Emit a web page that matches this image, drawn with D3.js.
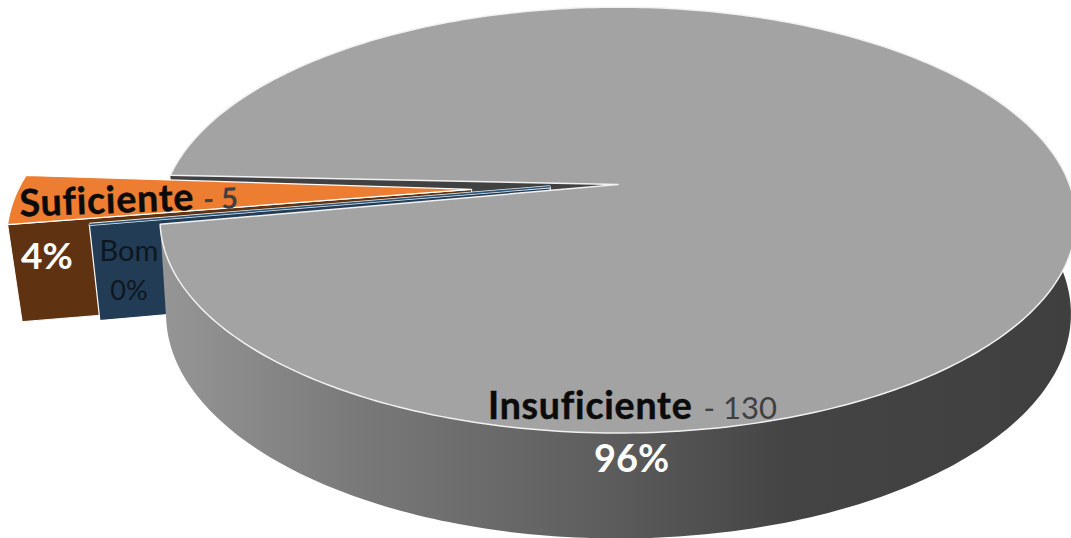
<!DOCTYPE html>
<html>
<head>
<meta charset="utf-8">
<script src="https://cdn.jsdelivr.net/npm/d3@7/dist/d3.min.js"></script>
<style>
html, body { margin: 0; padding: 0; background: #fff; overflow: hidden; }
svg { display: block; }
text { font-family: Lato, "Open Sans", sans-serif; font-variant-ligatures: none; }
</style>
</head>
<body>
<svg id="chart" width="1071" height="538"></svg>
<script>
// Quality ratings and how many records fell into each one
const categories = ["Insuficiente", "Bom", "Suficiente"];
const counts = [130, 0, 5];
const percentLabels = ["96%", "0%", "4%"];

// Slice styling, in the same order as the categories
const topColors = ["#a3a3a3", "#24405a", "#ed7d31"];
const wallColors = ["#414141", "#213c54", "#5f3312"];
const explosion = [0, 0.15, 0.323];
const sliceTurn = [0, 0.6, 1.3];
const floorShrink = [0.988, 0.981, 0.977];
const floorDrop = [1, 1.02, 1.03];

const width = 1071, height = 538;
const svg = d3.select("#chart");
const rad = Math.PI / 180;

// Perspective view of the pie plane
const apexX = 618, apexY = 184.5;
const scaleX = 451.5, scaleY = 207, tilt = 0.167;
const thickness = 92;

function project(wx, wy, slice) {
  const p = 1 - tilt * wy;
  const sx = scaleX * wx / p, sy = scaleY * wy / p;
  if (slice === undefined) return [apexX + sx, apexY + sy];
  return [apexX + sx * floorShrink[slice] + 0.5,
          apexY + sy * 0.98 + thickness * floorDrop[slice] / p];
}

const pie = d3.pie().sort(null).value(d => d)
  .startAngle(-87.4 * rad).endAngle(272.6 * rad);
const arcs = pie(counts);

const line = d3.line();

// Each slice in plane coordinates: its pulled-out apex and a rim point at an angle
function apex(i) {
  return [-explosion[i], 0.074 * explosion[i]];
}
function rim(i, phi) {
  const c = apex(i);
  return [c[0] + Math.cos(phi), c[1] + Math.sin(phi)];
}
function angles(i) {
  const turn = sliceTurn[i] * rad;
  return [arcs[i].startAngle - Math.PI / 2 + turn, arcs[i].endAngle - Math.PI / 2 + turn];
}
function arcPoints(i, from, to, slice) {
  const n = Math.max(2, Math.ceil(Math.abs(to - from) / rad));
  return d3.range(n + 1).map(k => {
    const w = rim(i, from + (to - from) * k / n);
    return project(w[0], w[1], slice);
  });
}
// Flat face of a slice: apex, along the rim and back
function topPath(i) {
  const [a0, a1] = angles(i);
  const c = apex(i);
  return line([project(c[0], c[1]), ...arcPoints(i, a0, a1)]) + "Z";
}
// Radial cut face hanging under the edge at a given angle
function cutPath(i, phi) {
  const c = apex(i), w = rim(i, phi);
  return line([
    project(c[0], c[1]),
    project(w[0], w[1]),
    project(w[0], w[1], i),
    project(c[0], c[1], i)
  ]) + "Z";
}

const defs = svg.append("defs");
const wallGradient = defs.append("linearGradient")
  .attr("id", "wallShade").attr("gradientUnits", "userSpaceOnUse")
  .attr("x1", 160).attr("x2", 1071).attr("y1", 0).attr("y2", 0);
[[0, "#969696"], [0.21, "#7a7a7a"], [0.48, "#5e5e5e"], [0.69, "#444444"], [1, "#3f3f3f"]]
  .forEach(s => wallGradient.append("stop").attr("offset", s[0]).attr("stop-color", s[1]));

const [big0, big1] = angles(0);
const [suf0] = angles(2);
const [bomAngle] = angles(1);

// Rear cut face of the large slice, seen through the gap
svg.append("path").attr("d", cutPath(0, big0)).attr("fill", wallColors[0]);

// Pulled-out "Suficiente" slice
svg.append("path").attr("d", cutPath(2, suf0)).attr("fill", wallColors[2])
  .attr("stroke", "#fff").attr("stroke-width", 1);
svg.append("path").attr("d", topPath(2)).attr("fill", topColors[2])
  .attr("stroke", "#fff").attr("stroke-width", 1.2).attr("stroke-linejoin", "round");

// Pulled-out zero-width "Bom" slice
svg.append("path").attr("d", cutPath(1, bomAngle)).attr("fill", wallColors[1])
  .attr("stroke", "#fff").attr("stroke-width", 1.2);
const bomC = apex(1), bomW = rim(1, bomAngle);
const bomEdge = line([project(bomC[0], bomC[1]), project(bomW[0], bomW[1])]);
svg.append("path").attr("d", bomEdge).attr("stroke", "#e9eef2").attr("stroke-width", 3.2).attr("fill", "none");
svg.append("path").attr("d", bomEdge).attr("stroke", "#2b5477").attr("stroke-width", 1.6).attr("fill", "none");

// Outer wall of the large slice, only the part facing the viewer
const wallFrom = big1, wallTo = -12 * rad;
svg.append("path")
  .attr("d", line([...arcPoints(0, wallFrom, wallTo), ...arcPoints(0, wallTo, wallFrom, 0)]) + "Z")
  .attr("fill", "url(#wallShade)");

// Flat face of the large slice
svg.append("path").attr("d", topPath(0)).attr("fill", topColors[0])
  .attr("stroke", "#f1f1f1").attr("stroke-width", 1.5).attr("stroke-linejoin", "round");

// Data labels: category and count on one line, share beside it
const labelDark = "#0b0b0b", labelMuted = "#404040";

function nameLabel(x, y, i, size, subSize, subWeight, gap, rotate) {
  const t = svg.append("text")
    .attr("transform", `translate(${x},${y}) rotate(${rotate})`)
    .attr("font-size", size).attr("font-weight", 700).attr("fill", labelDark)
    .attr("stroke", labelDark).attr("stroke-width", 0.5)
    .attr("letter-spacing", 0.8)
    .text(categories[i]);
  t.append("tspan").attr("font-size", subSize).attr("font-weight", subWeight).attr("fill", labelMuted)
    .attr("stroke", "none").attr("letter-spacing", 0).attr("dx", gap).text("- " + counts[i]);
  return t;
}
nameLabel(488, 419, 0, 37.5, 31, 400, 11, 0);
nameLabel(20, 216.5, 2, 37.5, 29, 700, 9, -2.2);

function shareLabel(x, y, i, size, weight, fill) {
  svg.append("text").attr("x", x).attr("y", y).attr("text-anchor", "middle")
    .attr("font-size", size).attr("font-weight", weight).attr("fill", fill)
    .text(percentLabels[i]);
}
shareLabel(631.5, 472, 0, 38, 700, "#fff");
shareLabel(47, 269, 2, 37, 700, "#fff");
shareLabel(129, 300, 1, 27, 400, "#0e1720");
svg.append("text").attr("x", 129).attr("y", 261).attr("text-anchor", "middle")
  .attr("font-size", 29).attr("fill", "#0e1720").text(categories[1]);
</script>
</body>
</html>
